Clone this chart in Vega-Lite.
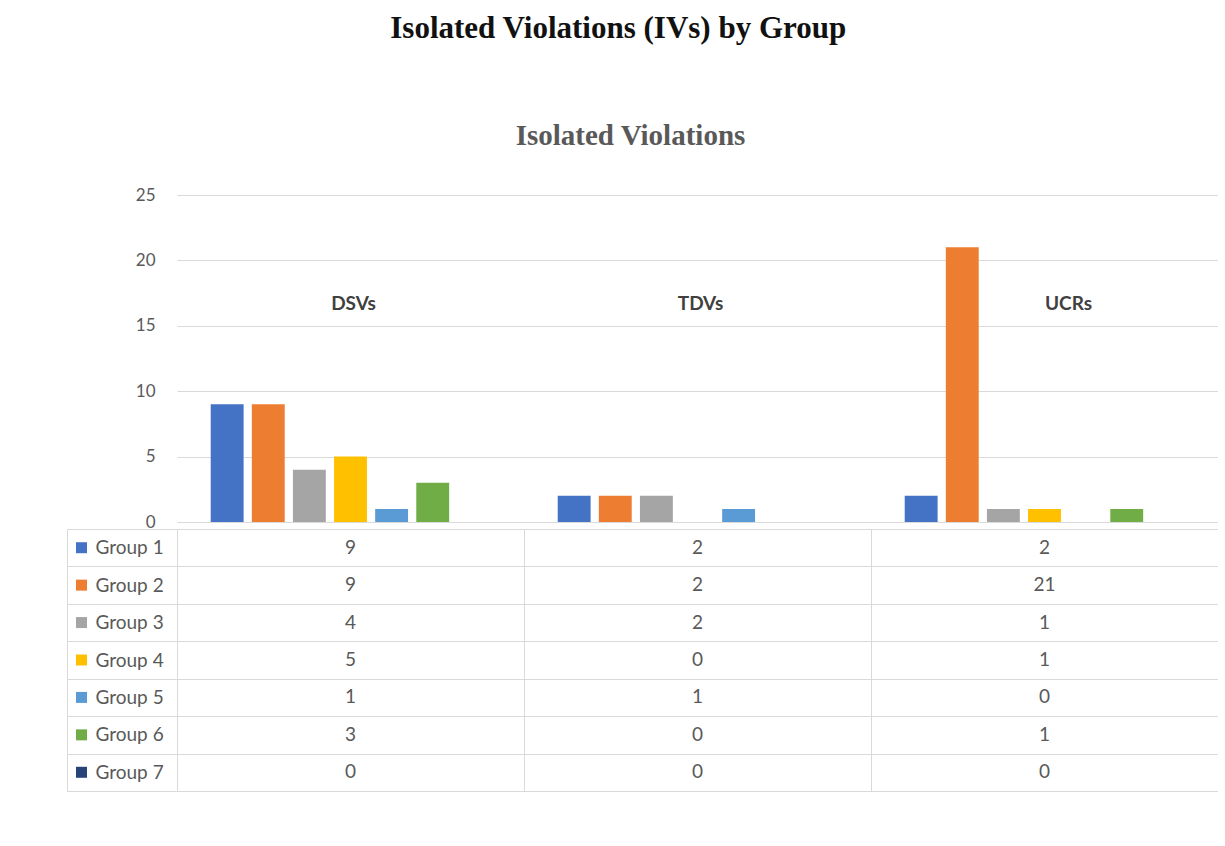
{
  "$schema": "https://vega.github.io/schema/vega-lite/v6.json",
  "padding": {"left": 66, "top": 13, "right": 0, "bottom": 0},
  "background": "white",
  "title": {
    "text": "Isolated Violations (IVs) by Group",
    "font": "Liberation Serif",
    "fontSize": 31,
    "fontWeight": "bold",
    "color": "#111111",
    "anchor": "middle",
    "dx": -24,
    "offset": 77
  },
  "datasets": {
    "iv": [
      {"category": "DSVs", "group": "Group 1", "count": 9},
      {"category": "DSVs", "group": "Group 2", "count": 9},
      {"category": "DSVs", "group": "Group 3", "count": 4},
      {"category": "DSVs", "group": "Group 4", "count": 5},
      {"category": "DSVs", "group": "Group 5", "count": 1},
      {"category": "DSVs", "group": "Group 6", "count": 3},
      {"category": "DSVs", "group": "Group 7", "count": 0},
      {"category": "TDVs", "group": "Group 1", "count": 2},
      {"category": "TDVs", "group": "Group 2", "count": 2},
      {"category": "TDVs", "group": "Group 3", "count": 2},
      {"category": "TDVs", "group": "Group 4", "count": 0},
      {"category": "TDVs", "group": "Group 5", "count": 1},
      {"category": "TDVs", "group": "Group 6", "count": 0},
      {"category": "TDVs", "group": "Group 7", "count": 0},
      {"category": "UCRs", "group": "Group 1", "count": 2},
      {"category": "UCRs", "group": "Group 2", "count": 21},
      {"category": "UCRs", "group": "Group 3", "count": 1},
      {"category": "UCRs", "group": "Group 4", "count": 1},
      {"category": "UCRs", "group": "Group 5", "count": 0},
      {"category": "UCRs", "group": "Group 6", "count": 1},
      {"category": "UCRs", "group": "Group 7", "count": 0}
    ],
    "cats": [
      {"category": "DSVs"},
      {"category": "TDVs"},
      {"category": "UCRs"}
    ]
  },
  "spacing": 7,
  "bounds": "flush",
  "vconcat": [
    {
      "width": 1041,
      "height": 327,
      "title": {
        "text": "Isolated Violations",
        "font": "Liberation Serif",
        "fontSize": 29,
        "fontWeight": "bold",
        "color": "#595959",
        "anchor": "middle",
        "frame": "group",
        "dx": -67,
        "offset": 35
      },
      "layer": [
        {
          "data": {"name": "iv"},
          "mark": {"type": "bar"},
          "encoding": {
            "x": {
              "field": "category",
              "type": "nominal",
              "sort": ["DSVs", "TDVs", "UCRs"],
              "scale": {"paddingInner": 0, "paddingOuter": 0},
              "axis": null
            },
            "xOffset": {
              "field": "group",
              "type": "nominal",
              "sort": ["Group 1", "Group 2", "Group 3", "Group 4", "Group 5", "Group 6", "Group 7"],
              "scale": {"paddingInner": 0.2, "paddingOuter": 0.82}
            },
            "y": {
              "field": "count",
              "type": "quantitative",
              "scale": {"domain": [0, 25], "nice": false},
              "axis": {
                "values": [0, 5, 10, 15, 20, 25],
                "grid": true,
                "gridColor": "#d9d9d9",
                "domain": false,
                "ticks": false,
                "labelPadding": 22,
                "labelColor": "#595959",
                "labelFont": "Lato",
                "labelFontSize": 17,
                "title": null
              }
            },
            "color": {
              "field": "group",
              "type": "nominal",
              "scale": {
                "domain": ["Group 1", "Group 2", "Group 3", "Group 4", "Group 5", "Group 6", "Group 7"],
                "range": ["#4472C4", "#ED7D31", "#A5A5A5", "#FFC000", "#5B9BD5", "#70AD47", "#264478"]
              },
              "legend": null
            }
          }
        },
        {
          "data": {"name": "cats"},
          "mark": {
            "type": "text",
            "font": "Lato",
            "fontWeight": "bold",
            "fontSize": 19,
            "color": "#404040",
            "dx": {"expr": "datum.category === 'UCRs' ? 24 : 3"}
          },
          "encoding": {
            "x": {"field": "category", "type": "nominal"},
            "y": {"datum": 16.7},
            "text": {"field": "category"}
          }
        }
      ]
    },
    {
      "width": 1041,
      "height": 262,
      "view": {"stroke": null},
      "layer": [
        {
          "data": {"name": "iv"},
          "mark": {"type": "text", "font": "Lato", "fontSize": 19, "color": "#595959"},
          "encoding": {
            "x": {
              "field": "category",
              "type": "nominal",
              "sort": ["DSVs", "TDVs", "UCRs"],
              "scale": {"paddingInner": 0, "paddingOuter": 0},
              "axis": {
                "orient": "top",
                "grid": true,
                "tickBand": "extent",
                "gridColor": "#d9d9d9",
                "labels": false,
                "ticks": false,
                "domain": false,
                "title": null
              }
            },
            "y": {
              "field": "group",
              "type": "nominal",
              "sort": ["Group 1", "Group 2", "Group 3", "Group 4", "Group 5", "Group 6", "Group 7"],
              "scale": {"paddingInner": 0, "paddingOuter": 0},
              "axis": {
                "grid": true,
                "tickBand": "extent",
                "gridColor": "#d9d9d9",
                "offset": 110,
                "tickSize": -110,
                "tickColor": "#d9d9d9",
                "domain": true,
                "domainColor": "#d9d9d9",
                "labelAlign": "left",
                "labelPadding": 82,
                "labelColor": "#595959",
                "labelFont": "Lato",
                "labelFontSize": 19,
                "title": null
              }
            },
            "text": {"field": "count", "type": "quantitative"}
          }
        },
        {
          "data": {"name": "iv"},
          "transform": [{"filter": "datum.category === 'DSVs'"}],
          "mark": {"type": "square", "size": 121, "filled": true, "opacity": 1, "xOffset": -269},
          "encoding": {
            "x": {"datum": "DSVs", "type": "nominal"},
            "y": {"field": "group", "type": "nominal"},
            "color": {"field": "group", "type": "nominal", "legend": null}
          }
        }
      ]
    }
  ],
  "config": {
    "view": {"stroke": null},
    "font": "Lato"
  }
}
